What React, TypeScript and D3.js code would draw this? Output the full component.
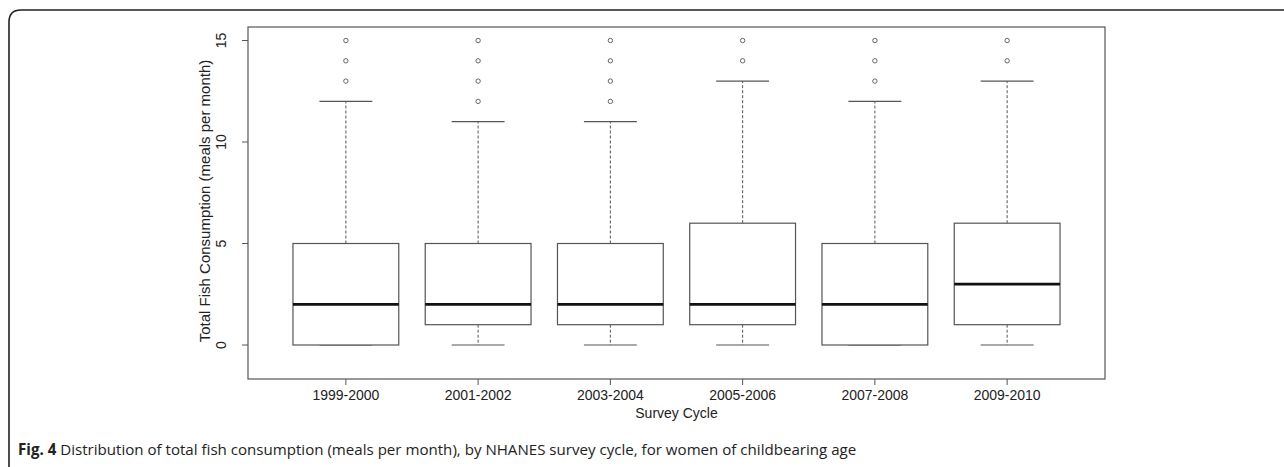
import React from "react";
import * as d3 from "d3";

const cycles = ["1999-2000", "2001-2002", "2003-2004", "2005-2006", "2007-2008", "2009-2010"];
const lowerWhisker = [0, 0, 0, 0, 0, 0];
const q1 = [0, 1, 1, 1, 0, 1];
const medians = [2, 2, 2, 2, 2, 3];
const q3 = [5, 5, 5, 6, 5, 6];
const upperWhisker = [12, 11, 11, 13, 12, 13];
const outliers = [
  [13, 14, 15],
  [12, 13, 14, 15],
  [12, 13, 14, 15],
  [14, 15],
  [13, 14, 15],
  [14, 15],
];
const yTicks = [0, 5, 10, 15];

const W = 1284;
const H = 467;
const plot = { left: 248, right: 1105, top: 27, bottom: 379 };

export default function App() {
  const x = d3.scaleLinear().domain([0.26, 6.74]).range([plot.left, plot.right]);
  const yc = d3.scaleLinear().domain([0, 15]).range([345, 40.5]);
  const unit = x(1) - x(0);
  const boxW = unit * 0.8;
  const stapleW = boxW * 0.5;
  const lineCol = "#555";
  const font = "'Liberation Sans', Arial, sans-serif";

  return (
    <svg
      width={W}
      height={H}
      style={{ position: "absolute", left: 0, top: 0, display: "block", background: "#fff" }}
    >
      {/* frame */}
      <path d={`M9,${H} L9,22 Q9,10 21,10 L${W},10`} fill="none" stroke="#222" strokeWidth={1.6} />

      {/* plot box */}
      <rect
        x={plot.left}
        y={plot.top}
        width={plot.right - plot.left}
        height={plot.bottom - plot.top}
        fill="none"
        stroke={lineCol}
        strokeWidth={1.2}
      />

      {/* y axis ticks */}
      {yTicks.map((t) => (
        <g key={t}>
          <line x1={plot.left - 6} x2={plot.left} y1={yc(t)} y2={yc(t)} stroke={lineCol} strokeWidth={1} />
          <text
            transform={`translate(${226},${yc(t)}) rotate(-90)`}
            textAnchor="middle"
            fontFamily={font}
            fontSize={14}
            fill="#222"
          >
            {t}
          </text>
        </g>
      ))}
      <text
        transform={`translate(${210},${201}) rotate(-90)`}
        textAnchor="middle"
        fontFamily={font}
        fontSize={15}
        fill="#222"
      >
        Total Fish Consumption (meals per month)
      </text>

      {/* x axis ticks */}
      {cycles.map((c, i) => (
        <g key={c}>
          <line x1={x(i + 1)} x2={x(i + 1)} y1={plot.bottom} y2={plot.bottom + 6} stroke={lineCol} strokeWidth={1} />
          <text x={x(i + 1)} y={400} textAnchor="middle" fontFamily={font} fontSize={14} fill="#222">
            {c}
          </text>
        </g>
      ))}
      <text x={(plot.left + plot.right) / 2} y={418} textAnchor="middle" fontFamily={font} fontSize={14} fill="#222">
        Survey Cycle
      </text>

      {/* boxes */}
      {cycles.map((c, i) => {
        const cx = x(i + 1);
        return (
          <g key={c}>
            <line x1={cx} x2={cx} y1={yc(q3[i])} y2={yc(upperWhisker[i])} stroke={lineCol} strokeWidth={1} strokeDasharray="3,2" />
            <line x1={cx} x2={cx} y1={yc(q1[i])} y2={yc(lowerWhisker[i])} stroke={lineCol} strokeWidth={1} strokeDasharray="3,2" />
            <line x1={cx - stapleW / 2} x2={cx + stapleW / 2} y1={yc(upperWhisker[i])} y2={yc(upperWhisker[i])} stroke={lineCol} strokeWidth={1.2} />
            <line x1={cx - stapleW / 2} x2={cx + stapleW / 2} y1={yc(lowerWhisker[i])} y2={yc(lowerWhisker[i])} stroke={lineCol} strokeWidth={1.2} />
            <rect
              x={cx - boxW / 2}
              y={yc(q3[i])}
              width={boxW}
              height={yc(q1[i]) - yc(q3[i])}
              fill="#fff"
              stroke={lineCol}
              strokeWidth={1.2}
            />
            <line x1={cx - boxW / 2} x2={cx + boxW / 2} y1={yc(medians[i])} y2={yc(medians[i])} stroke="#111" strokeWidth={2.6} />
            {outliers[i].map((o) => (
              <circle key={o} cx={cx} cy={yc(o)} r={2.2} fill="none" stroke="#666" strokeWidth={1} />
            ))}
          </g>
        );
      })}

      {/* caption */}
      <text x={18} y={455} fontFamily="'Open Sans', 'Noto Sans', sans-serif" fontSize={15.1} fill="#222">
        <tspan fontWeight="bold">Fig. 4</tspan>
        <tspan> Distribution of total fish consumption (meals per month), by NHANES survey cycle, for women of childbearing age</tspan>
      </text>
    </svg>
  );
}
